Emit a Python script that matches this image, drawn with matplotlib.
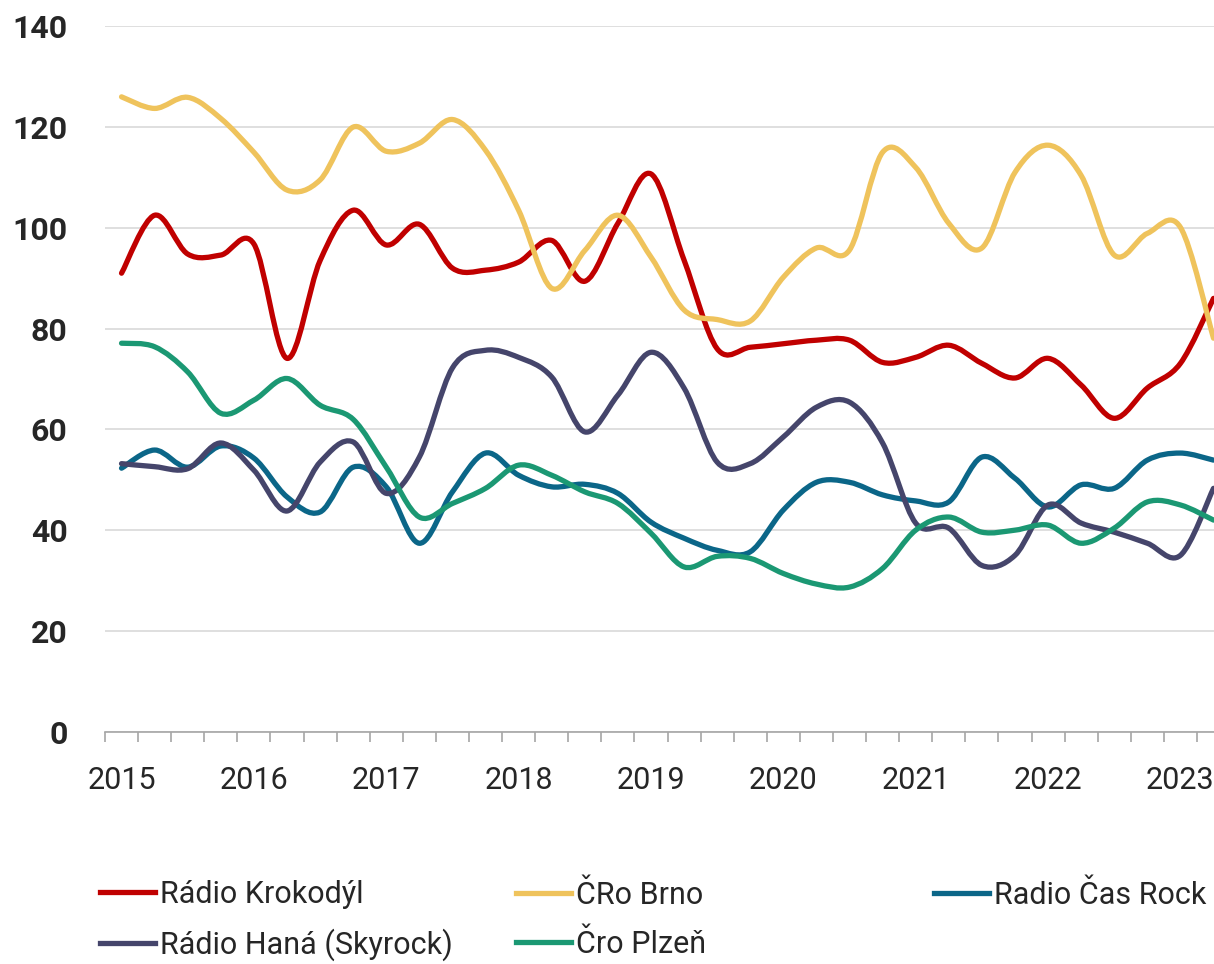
import matplotlib
matplotlib.use("Agg")
import matplotlib.pyplot as plt
import numpy as np
from matplotlib.path import Path
from matplotlib.patches import PathPatch
from matplotlib.lines import Line2D

plt.rcParams['font.family'] = ['Roboto', 'DejaVu Sans']

# quarterly values, 2015 Q1 .. 2023 Q2
years = ['2015', '2016', '2017', '2018', '2019', '2020', '2021', '2022', '2023']

krokodyl = [91, 102.5, 94.8, 94.6, 96.8, 74.1, 93.5, 103.5, 96.6, 100.7,
            92.0, 91.6, 93.2, 97.5, 89.4, 100.9, 110.7, 93.6, 76.0, 76.3,
            77.0, 77.7, 77.7, 73.3, 74.3, 76.7, 73.1, 70.2, 74.1, 68.8,
            62.2, 68.2, 73.1, 86.0]
cro_brno = [126.0, 123.7, 125.9, 121.7, 115.0, 107.5, 109.5, 120.0, 115.2, 116.8,
            121.5, 115.4, 103.5, 88.0, 95.5, 102.5, 94.2, 83.7, 81.8, 81.5,
            90.2, 96.0, 95.6, 115.0, 112.0, 100.9, 96.0, 111.0, 116.4, 110.4,
            94.6, 98.9, 100.1, 78.1]
cas_rock = [52.3, 55.9, 52.5, 56.7, 54.3, 46.6, 43.6, 52.5, 48.6, 37.4,
            47.6, 55.3, 50.9, 48.6, 49.1, 47.3, 41.6, 38.4, 36.0, 35.7,
            44.0, 49.5, 49.5, 47.0, 45.8, 45.6, 54.5, 50.3, 44.6, 49.0,
            48.3, 53.9, 55.3, 53.9]
hana = [53.2, 52.6, 52.2, 57.3, 51.9, 43.8, 53.5, 57.5, 47.3, 54.5,
        72.2, 75.7, 74.3, 70.4, 59.5, 66.8, 75.3, 68.2, 53.5, 53.2,
        58.5, 64.4, 65.4, 57.3, 41.4, 40.4, 33.0, 35.0, 45.0, 41.4,
        39.6, 37.4, 35.0, 48.3]
plzen = [77.1, 76.4, 71.4, 63.2, 65.8, 70.1, 64.8, 62.0, 52.5, 42.6,
         45.3, 48.3, 52.9, 50.9, 47.6, 45.3, 39.4, 32.7, 34.8, 34.4,
         31.4, 29.3, 28.7, 32.4, 40.0, 42.6, 39.6, 40.0, 41.0, 37.4,
         40.4, 45.6, 45.0, 42.0]

series = [
    ('Rádio Krokodýl', krokodyl, '#c00000'),
    ('ČRo Brno', cro_brno, '#efc35c'),
    ('Radio Čas Rock', cas_rock, '#0b6688'),
    ('Rádio Haná (Skyrock)', hana, '#45456b'),
    ('Čro Plzeň', plzen, '#1b9873'),
]


def smooth_path(xs, ys):
    # Catmull-Rom style bezier, like the spreadsheet "smoothed line"
    pts = np.column_stack([xs, ys]).astype(float)
    n = len(pts)
    verts = [pts[0]]
    for i in range(n - 1):
        p0 = pts[max(i - 1, 0)]
        p3 = pts[min(i + 2, n - 1)]
        c1 = pts[i] + (pts[i + 1] - p0) / 6
        c2 = pts[i + 1] - (p3 - pts[i]) / 6
        verts += [c1, c2, pts[i + 1]]
    codes = [Path.MOVETO] + [Path.CURVE4] * (3 * (n - 1))
    return Path(verts, codes)


fig = plt.figure(figsize=(12.14, 9.64), dpi=100)
ax = fig.add_axes([105 / 1214, 1 - 731.7 / 964, 1108.5 / 1214, 705.4 / 964])

n = len(krokodyl)
x = np.arange(n)
for name, vals, color in series:
    patch = PathPatch(smooth_path(x, vals), facecolor='none', edgecolor=color,
                      lw=3.8, capstyle='round', joinstyle='round')
    ax.add_patch(patch)

ax.set_xlim(-0.5, n - 1)
ax.set_ylim(0, 140)

ax.set_yticks(np.arange(0, 141, 20))
ax.yaxis.grid(True, color='#d9d9d9', lw=1.2)
ax.set_axisbelow(True)
ax.tick_params(axis='y', length=0, pad=27, labelsize=23, labelcolor='#262626')
for lbl in ax.get_yticklabels():
    lbl.set_fontweight('bold')

# category boundaries as ticks, year labels at every 4th category
ax.set_xticks(np.arange(-0.5, n - 1, 1))
ax.set_xticklabels([])
ax.tick_params(axis='x', which='major', length=7, width=1.2, color='#a6a6a6', direction='out')
ax.set_xticks(np.arange(0, n, 4), minor=True)
ax.set_xticklabels(years, minor=True)
ax.tick_params(axis='x', which='minor', length=0, pad=25, labelsize=22, labelcolor='#262626')

for side in ['top', 'right', 'left']:
    ax.spines[side].set_visible(False)
ax.spines['bottom'].set_color('#a6a6a6')
ax.spines['bottom'].set_linewidth(1.2)

# legend, three equal columns like the original
handles = [Line2D([], [], color=c, lw=3.8) for _, _, c in series]
labels = [s[0] for s in series]
columns = [[0, 3], [1, 4], [2]]
col_x = [100, 516, 934]
for idx, cx in zip(columns, col_x):
    leg = fig.legend([handles[i] for i in idx], [labels[i] for i in idx],
                     loc='upper left', bbox_to_anchor=(cx / 1214, 1 - 880 / 964),
                     frameon=False, fontsize=22, handlelength=1.8, handletextpad=0.17,
                     labelspacing=0.65, borderpad=0, borderaxespad=0)
    for t in leg.get_texts():
        t.set_color('#262626')

fig.savefig('out.png', dpi=100)
